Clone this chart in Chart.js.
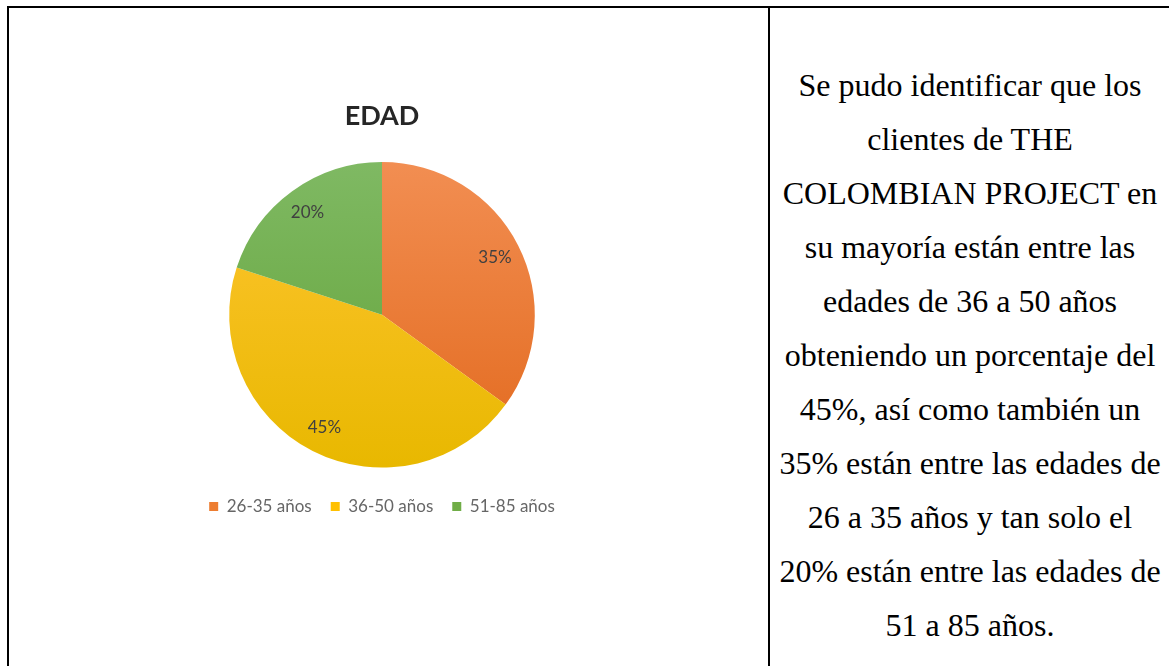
<!DOCTYPE html>
<html>
<head>
<meta charset="utf-8">
<script src="https://cdn.jsdelivr.net/npm/chart.js@4.4.1/dist/chart.umd.min.js"></script>
<style>
  html, body { margin: 0; padding: 0; background: #fff; }
  body { width: 1169px; height: 666px; position: relative; overflow: hidden; }
  .line { position: absolute; background: #000; }
  #chartBox { position: absolute; left: 182px; top: 100px; width: 400px; height: 440px; }
  #note {
    position: absolute; left: 771px; top: 58px; width: 398px;
    font-family: "Liberation Serif", "Times New Roman", serif;
    font-size: 32px; line-height: 54px; text-align: center; color: #000;
    white-space: nowrap;
  }
</style>
</head>
<body>
<div class="line" style="left:7px; top:6px; right:0; height:2px;"></div>
<div class="line" style="left:7px; top:6px; width:2px; bottom:0;"></div>
<div class="line" style="left:768px; top:6px; width:2px; bottom:0;"></div>

<div id="chartBox"><canvas id="edadChart"></canvas></div>

<div id="note">
Se pudo identificar que los<br>
clientes de THE<br>
COLOMBIAN PROJECT en<br>
su mayoría están entre las<br>
edades de 36 a 50 años<br>
obteniendo un porcentaje del<br>
45%, así como también un<br>
35% están entre las edades de<br>
26 a 35 años y tan solo el<br>
20% están entre las edades de<br>
51 a 85 años.
</div>

<script>
const labels = ['26-35 años', '36-50 años', '51-85 años'];
const values = [35, 45, 20];
const baseColors = ['#ED7D31', '#FFC000', '#70AD47'];
const topColors = ['#F28E52', '#FFC532', '#7FB963'];
const bottomColors = ['#E2691D', '#E8B800', '#62A236'];

// labels inside the slices, like Excel's data labels
const sliceLabels = {
    id: 'sliceLabels',
    afterDatasetsDraw(chart) {
        const ctx = chart.ctx;
        const meta = chart.getDatasetMeta(0);
        const total = values.reduce((a, b) => a + b, 0);
        ctx.save();
        ctx.font = '17px Lato, "Noto Sans", sans-serif';
        ctx.fillStyle = '#404040';
        ctx.textAlign = 'center';
        ctx.textBaseline = 'middle';
        meta.data.forEach((arc, i) => {
            const mid = (arc.startAngle + arc.endAngle) / 2;
            const r = arc.outerRadius * 0.83;
            const x = arc.x + Math.cos(mid) * r;
            const y = arc.y + Math.sin(mid) * r;
            ctx.fillText(Math.round(values[i] / total * 100) + '%', x, y);
        });
        ctx.restore();
    }
};

function sliceFill(context) {
    const chart = context.chart;
    const area = chart.chartArea;
    if (!area) return baseColors[context.dataIndex];
    const g = chart.ctx.createLinearGradient(0, area.top, 0, area.bottom);
    g.addColorStop(0, topColors[context.dataIndex]);
    g.addColorStop(1, bottomColors[context.dataIndex]);
    return g;
}

const ctx = document.getElementById('edadChart').getContext('2d');
const chart = new Chart(ctx, {
    type: 'pie',
    data: {
        labels: labels,
        datasets: [
            {
                data: values,
                backgroundColor: sliceFill,
                borderWidth: 0
            }
        ]
    },
    options: {
        responsive: true,
        maintainAspectRatio: false,
        animation: false,
        layout: {
            padding: { bottom: 15 }
        },
        plugins: {
            title: {
                display: true,
                text: 'EDAD',
                color: '#262626',
                font: { family: 'Lato, "Noto Sans", sans-serif', size: 27, weight: 'bold' },
                padding: { top: 0, bottom: 29.6 }
            },
            legend: {
                position: 'bottom',
                title: {
                    display: true,
                    text: '',
                    font: { size: 2 },
                    padding: { top: 0, bottom: 9 }
                },
                labels: {
                    color: '#595959',
                    font: { family: 'Lato, "Noto Sans", sans-serif', size: 17 },
                    boxWidth: 9,
                    boxHeight: 9,
                    padding: 19,
                    generateLabels(chart) {
                        return labels.map((l, i) => ({
                            text: l,
                            fillStyle: baseColors[i],
                            strokeStyle: baseColors[i],
                            lineWidth: 0,
                            index: i
                        }));
                    }
                }
            },
            tooltip: { enabled: false }
        }
    },
    plugins: [sliceLabels]
});
</script>
</body>
</html>
